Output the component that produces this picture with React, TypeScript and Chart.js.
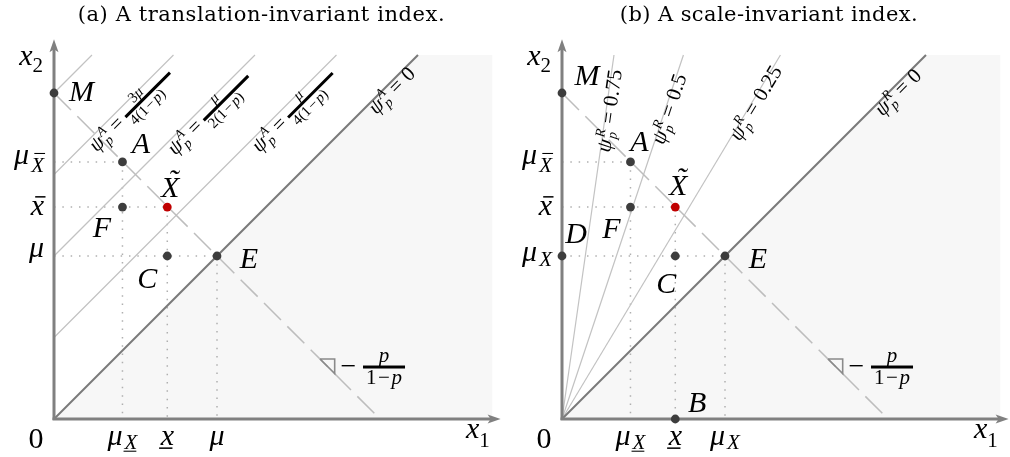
import React, { useEffect, useRef } from "react";
import { Chart, registerables } from "chart.js";

Chart.register(...registerables);

// ---------------- layout constants (pixels) ----------------
const PANEL_W = 505;
const PANEL_H = 457;
const UNIT = 163; // pixels per data unit (mu = 1)
const ORIGIN_PX = [
  { x: 54, y: 419 },
  { x: 57, y: 419 },
];
const TITLES = ["(a) A translation-invariant index.", "(b) A scale-invariant index."];
const TITLE_LEFT = [78, 115];
const TITLE_WIDTH = [367, 298];

// ---------------- values (mu = 1) ----------------
const muVal = 1.0; // mu / mu_X  (point E)
const muXUnder = 0.42; // mu_{X underline}
const xUnder = 0.695; // x underline
const xBar = 1.3; // x bar
const muXBar = 1.577; // mu_{X bar}
const mY = 2.0; // point M on x2 axis
const budgetEnd = 2.0; // dashed line meets x1 axis
const lineTop = 2.233; // upper end of the iso lines
const shadeRight = 2.69; // right edge of shaded region
const yAxisTop = 2.33;
const xAxisRight = 2.74;

// panel (a): iso lines x2 = x1 + c
const isoInterceptsA = [2.0, 1.5, 1.0, 0.5];
const isoNumA = ["", "3μ", "μ", "μ"];
const isoDenA = ["", "4(1−p)", "2(1−p)", "4(1−p)"];
// panel (b): rays from origin, x1 where they reach lineTop
const rayTopXB = [0.319, 0.745, 1.34];
const rayLabelsB = ["0.75", "0.5", "0.25"];

// slope marker on dashed line
const slopeTriX = 1.632;
const slopeTriSize = 0.09;

// label placements (fraction along line where label starts)
const LABEL_T_A = [0.27, 0.55, 0.69];
const LABEL_T_A0 = 0.86;
const LABEL_T_B = [0.735, 0.76, 0.775];
const LABEL_T_B0 = 0.855;

type Pt = { x: number; y: number };

const DOT = "#3d3d3d";
const RED = "#c00000";
const MATH = '"Liberation Serif", "Times New Roman", serif';

function lineDs(pts: Pt[], color: string, width: number, dash: number[] = []) {
  return {
    data: pts,
    showLine: true,
    pointRadius: 0,
    borderColor: color,
    borderWidth: width,
    borderDash: dash,
    fill: false,
    tension: 0,
    clip: false as any,
  };
}

function budgetY(x: number) {
  return mY * (1 - x / budgetEnd);
}

function buildDatasets(panel: number) {
  const ds: any[] = [];
  ds.push({
    data: [
      { x: 0, y: 0 },
      { x: lineTop, y: lineTop },
      { x: shadeRight, y: lineTop },
      { x: shadeRight, y: 0 },
    ],
    showLine: true,
    pointRadius: 0,
    borderWidth: 0,
    borderColor: "rgba(0,0,0,0)",
    backgroundColor: "#f7f7f7",
    fill: "origin",
    clip: false,
  });
  const guides: Pt[][] = [
    [{ x: 0, y: muXBar }, { x: muXUnder, y: muXBar }],
    [{ x: 0, y: xBar }, { x: xUnder, y: xBar }],
    [{ x: 0, y: muVal }, { x: muVal, y: muVal }],
    [{ x: muXUnder, y: muXBar }, { x: muXUnder, y: 0 }],
    [{ x: xUnder, y: xBar }, { x: xUnder, y: 0 }],
    [{ x: muVal, y: muVal }, { x: muVal, y: 0 }],
  ];
  guides.forEach((g) => ds.push(lineDs(g, "#b0b0b0", 1.5, [1.5, 6.83])));
  if (panel === 0) {
    isoInterceptsA.forEach((c) =>
      ds.push(lineDs([{ x: 0, y: c }, { x: lineTop - c, y: lineTop }], "#c2c2c2", 1.2))
    );
  } else {
    rayTopXB.forEach((tx) =>
      ds.push(lineDs([{ x: 0, y: 0 }, { x: tx, y: lineTop }], "#c2c2c2", 1.2))
    );
  }
  ds.push(lineDs([{ x: 0, y: 0 }, { x: lineTop, y: lineTop }], "#7a7a7a", 2));
  ds.push(lineDs([{ x: 0, y: mY }, { x: budgetEnd, y: 0 }], "#bdbdbd", 1.5, [24, 9]));
  ds.push(
    lineDs(
      [
        { x: slopeTriX, y: budgetY(slopeTriX) },
        { x: slopeTriX + slopeTriSize, y: budgetY(slopeTriX) },
        { x: slopeTriX + slopeTriSize, y: budgetY(slopeTriX + slopeTriSize) },
        { x: slopeTriX, y: budgetY(slopeTriX) },
      ],
      "#8a8a8a",
      1.6
    )
  );
  ds.push(lineDs([{ x: 0, y: -0.006 }, { x: 0, y: yAxisTop - 0.04 }], "#808080", 3));
  ds.push(lineDs([{ x: -0.009, y: 0 }, { x: xAxisRight - 0.04, y: 0 }], "#808080", 3));
  const pts: Pt[] = [
    { x: 0, y: mY },
    { x: muXUnder, y: muXBar },
    { x: muXUnder, y: xBar },
    { x: xUnder, y: muVal },
    { x: muVal, y: muVal },
    { x: xUnder, y: xBar },
  ];
  const cols = [DOT, DOT, DOT, DOT, DOT, RED];
  if (panel === 1) {
    pts.unshift({ x: 0, y: muVal }, { x: xUnder, y: 0 });
    cols.unshift(DOT, DOT);
  }
  ds.push({
    data: pts,
    showLine: false,
    pointRadius: 4.4,
    pointBorderWidth: 0,
    pointBackgroundColor: cols,
    pointBorderColor: cols,
    clip: false,
  });
  return ds.reverse();
}

// ---------------- text helpers ----------------
type Run = {
  t: string;
  s: number;
  it?: boolean;
  dy?: number;
  dx?: number;
  bar?: number; // height above baseline for over-bar
  under?: boolean;
  tilde?: boolean;
};

function setFont(ctx: CanvasRenderingContext2D, r: Run) {
  ctx.font = `${r.it ? "italic " : ""}${r.s}px ${MATH}`;
}
function runsWidth(ctx: CanvasRenderingContext2D, runs: Run[]) {
  let w = 0;
  for (const r of runs) {
    setFont(ctx, r);
    w += (r.dx || 0) + ctx.measureText(r.t).width;
  }
  return w;
}
function drawRuns(
  ctx: CanvasRenderingContext2D,
  runs: Run[],
  x: number,
  y: number,
  align: "left" | "center" | "right" = "left"
) {
  const w = runsWidth(ctx, runs);
  let cx = align === "left" ? x : align === "center" ? x - w / 2 : x - w;
  ctx.textAlign = "left";
  ctx.textBaseline = "alphabetic";
  for (const r of runs) {
    cx += r.dx || 0;
    setFont(ctx, r);
    const rw = ctx.measureText(r.t).width;
    const by = y + (r.dy || 0);
    ctx.fillText(r.t, cx, by);
    const th = Math.max(1, r.s * 0.05);
    if (r.bar) ctx.fillRect(cx + r.s * 0.15, by - r.bar, rw - r.s * 0.1, th);
    if (r.under) ctx.fillRect(cx - r.s * 0.05, by + r.s * 0.08, rw, th);
    if (r.tilde) {
      ctx.save();
      ctx.textAlign = "center";
      ctx.fillText("˜", cx + rw / 2 + r.s * 0.1, by - r.s * 0.24);
      ctx.restore();
    }
    cx += rw;
  }
}

const BIG = 30;
const SUB = 21;

function pointLabel(ctx: CanvasRenderingContext2D, name: string, cx: number, cy: number) {
  const runs: Run[] = [{ t: name, s: BIG, it: true, tilde: name === "X̃" }];
  if (name === "X̃") runs[0].t = "X";
  drawRuns(ctx, runs, cx, cy + BIG * 0.33, "center");
}

function psiLabel(
  ctx: CanvasRenderingContext2D,
  p0: Pt,
  p1: Pt,
  t: number,
  off: number,
  supL: string,
  value: string | null,
  num?: string,
  den?: string
) {
  const ax = p0.x + (p1.x - p0.x) * t;
  const ay = p0.y + (p1.y - p0.y) * t;
  const ang = Math.atan2(p1.y - p0.y, p1.x - p0.x);
  ctx.save();
  ctx.translate(ax, ay);
  ctx.rotate(ang);
  ctx.fillStyle = "#000";
  ctx.textAlign = "left";
  ctx.textBaseline = "alphabetic";
  let cx = 0;
  const S = 21;
  const s = 14;
  ctx.font = `italic ${S}px ${MATH}`;
  ctx.fillText("ψ", cx, off);
  cx += ctx.measureText("ψ").width;
  ctx.font = `italic ${s}px ${MATH}`;
  const w1 = ctx.measureText(supL).width;
  const w2 = ctx.measureText("p").width;
  ctx.fillText(supL, cx + 1, off - 8);
  ctx.fillText("p", cx + 1, off + 4);
  cx += Math.max(w1, w2) + 2;
  ctx.font = `${S}px ${MATH}`;
  cx += 5;
  ctx.fillText("=", cx, off);
  cx += ctx.measureText("=").width + 6;
  if (value !== null) {
    ctx.fillText(value, cx, off);
  } else if (num && den) {
    const fs = 15;
    const axis = off - 5;
    const numRuns: Run[] = [];
    for (const ch of num) numRuns.push({ t: ch, s: fs, it: ch === "μ" });
    const denRuns: Run[] = [];
    for (const ch of den)
      denRuns.push({ t: ch, s: fs, it: ch === "p", dx: ch === "−" || ch === "p" ? 1.5 : 0 });
    const nw = runsWidth(ctx, numRuns);
    const dw = runsWidth(ctx, denRuns);
    const fw = Math.max(nw, dw);
    drawRuns(ctx, numRuns, cx + fw / 2, axis - 4, "center");
    drawRuns(ctx, denRuns, cx + fw / 2, axis + 13, "center");
    ctx.fillRect(cx - 1, axis - 1.5, fw + 19, 3);
  }
  ctx.restore();
}

function slopeLabel(ctx: CanvasRenderingContext2D, tx: number, ty: number, barL: number, barR: number) {
  ctx.fillStyle = "#000";
  drawRuns(ctx, [{ t: "−", s: 28 }], tx + 28.5, ty + 15.5, "center");
  ctx.fillRect(tx + barL, ty + 6.5, barR - barL, 3);
  const mid = tx + (barL + barR) / 2;
  drawRuns(ctx, [{ t: "p", s: 21, it: true }], mid, ty + 3, "center");
  drawRuns(
    ctx,
    [
      { t: "1", s: 21 },
      { t: "−", s: 21, dx: 1.5 },
      { t: "p", s: 21, it: true, dx: 1.5 },
    ],
    mid,
    ty + 25,
    "center"
  );
}

function makeOverlay(panel: number) {
  return {
    id: "overlay" + panel,
    afterDatasetsDraw(chart: any) {
      const ctx: CanvasRenderingContext2D = chart.ctx;
      const sx = chart.scales.x;
      const sy = chart.scales.y;
      const P = (x: number, y: number): Pt => ({ x: sx.getPixelForValue(x), y: sy.getPixelForValue(y) });
      const o = P(0, 0);
      ctx.save();
      // arrow heads
      ctx.fillStyle = "#808080";
      const tipY = P(0, yAxisTop);
      ctx.beginPath();
      ctx.moveTo(tipY.x, tipY.y);
      ctx.lineTo(tipY.x - 4.5, tipY.y + 13);
      ctx.lineTo(tipY.x, tipY.y + 10);
      ctx.lineTo(tipY.x + 4.5, tipY.y + 13);
      ctx.closePath();
      ctx.fill();
      const tipX = P(xAxisRight, 0);
      ctx.beginPath();
      ctx.moveTo(tipX.x, tipX.y);
      ctx.lineTo(tipX.x - 13, tipX.y - 4.5);
      ctx.lineTo(tipX.x - 10, tipX.y);
      ctx.lineTo(tipX.x - 13, tipX.y + 4.5);
      ctx.closePath();
      ctx.fill();

      ctx.fillStyle = "#000";
      // title
      ctx.font = `21px "DejaVu Serif", serif`;
      ctx.textAlign = "left";
      ctx.textBaseline = "alphabetic";
      const tw = ctx.measureText(TITLES[panel]).width;
      const ls = Math.max(-1, Math.min(1.5, (TITLE_WIDTH[panel] - tw) / (TITLES[panel].length - 1)));
      (ctx as any).letterSpacing = `${ls.toFixed(2)}px`;
      const tw2 = ctx.measureText(TITLES[panel]).width;
      ctx.fillText(TITLES[panel], TITLE_LEFT[panel] + (TITLE_WIDTH[panel] - tw2) / 2, 21);
      (ctx as any).letterSpacing = "0px";

      // axis names
      drawRuns(
        ctx,
        [
          { t: "x", s: BIG, it: true },
          { t: "2", s: SUB, dy: 7 },
        ],
        o.x - 11,
        65,
        "right"
      );
      drawRuns(
        ctx,
        [
          { t: "x", s: BIG, it: true },
          { t: "1", s: SUB, dy: 9 },
        ],
        o.x + 412,
        o.y + 19,
        "left"
      );
      drawRuns(ctx, [{ t: "0", s: BIG }], o.x - 18, o.y + 29, "center");

      // y tick labels
      const yl = o.x - 10;
      drawRuns(
        ctx,
        [
          { t: "μ", s: BIG, it: true },
          { t: "X", s: SUB, it: true, dy: 8, dx: 2, bar: 19 },
        ],
        yl,
        P(0, muXBar).y + 2,
        "right"
      );
      drawRuns(ctx, [{ t: "x", s: BIG, it: true, bar: 19 }], yl, P(0, xBar).y + 8, "right");
      if (panel === 0) {
        drawRuns(ctx, [{ t: "μ", s: BIG, it: true }], yl, P(0, muVal).y + 1, "right");
      } else {
        drawRuns(
          ctx,
          [
            { t: "μ", s: BIG, it: true },
            { t: "X", s: SUB, it: true, dy: 5, dx: 2 },
          ],
          yl,
          P(0, muVal).y + 5,
          "right"
        );
      }
      // x tick labels
      const xb = o.y + 26;
      drawRuns(
        ctx,
        [
          { t: "μ", s: BIG, it: true },
          { t: "X", s: SUB, it: true, dy: 4, dx: 2, under: true },
        ],
        P(muXUnder, 0).x,
        xb,
        "center"
      );
      drawRuns(ctx, [{ t: "x", s: BIG, it: true, under: true }], P(xUnder, 0).x, xb, "center");
      if (panel === 0) {
        drawRuns(ctx, [{ t: "μ", s: BIG, it: true }], P(muVal, 0).x, xb, "center");
      } else {
        drawRuns(
          ctx,
          [
            { t: "μ", s: BIG, it: true },
            { t: "X", s: SUB, it: true, dy: 4, dx: 2 },
          ],
          P(muVal, 0).x,
          xb,
          "center"
        );
      }

      // point labels
      const lab = (name: string, x: number, y: number, dx: number, dy: number) => {
        const p = P(x, y);
        pointLabel(ctx, name, p.x + dx, p.y + dy);
      };
      if (panel === 0) {
        lab("M", 0, mY, 27.5, -2);
        lab("A", muXUnder, muXBar, 18.5, -18.5);
        lab("X̃", xUnder, xBar, 3, -20);
        lab("F", muXUnder, xBar, -20.5, 20);
        lab("C", xUnder, muVal, -20, 22);
        lab("E", muVal, muVal, 32, 2);
      } else {
        lab("M", 0, mY, 25, -18);
        lab("A", muXUnder, muXBar, 9, -21);
        lab("X̃", xUnder, xBar, 3, -22);
        lab("F", muXUnder, xBar, -19, 21);
        lab("D", 0, muVal, 14, -23);
        lab("C", xUnder, muVal, -9, 27);
        lab("E", muVal, muVal, 33, 2);
        lab("B", xUnder, 0, 22, -17);
      }

      // rotated iso-line labels
      const OFF = 13;
      if (panel === 0) {
        for (let i = 1; i < isoInterceptsA.length; i++) {
          const c = isoInterceptsA[i];
          psiLabel(ctx, P(0, c), P(lineTop - c, lineTop), LABEL_T_A[i - 1], 15, "A", null, isoNumA[i], isoDenA[i]);
        }
        psiLabel(ctx, P(0, 0), P(lineTop, lineTop), LABEL_T_A0, OFF, "A", "0");
      } else {
        for (let i = 0; i < rayTopXB.length; i++) {
          psiLabel(ctx, P(0, 0), P(rayTopXB[i], lineTop), LABEL_T_B[i], 10, "R", rayLabelsB[i]);
        }
        psiLabel(ctx, P(0, 0), P(lineTop, lineTop), LABEL_T_B0, OFF, "R", "0");
      }

      // slope marker label
      const tv = P(slopeTriX, budgetY(slopeTriX));
      slopeLabel(ctx, tv.x, tv.y, 43, 85);
      ctx.restore();
    },
  };
}

function Panel({ panel }: { panel: number }) {
  const ref = useRef<HTMLCanvasElement | null>(null);
  useEffect(() => {
    if (!ref.current) return;
    const o = ORIGIN_PX[panel];
    const chart = new Chart(ref.current, {
      type: "scatter",
      data: { datasets: buildDatasets(panel) },
      options: {
        responsive: false,
        animation: false,
        events: [],
        layout: { padding: 0, autoPadding: false },
        scales: {
          x: { type: "linear", display: false, bounds: "data", min: -o.x / UNIT, max: (PANEL_W - o.x) / UNIT },
          y: { type: "linear", display: false, bounds: "data", min: -(PANEL_H - o.y) / UNIT, max: o.y / UNIT },
        },
        plugins: {
          legend: { display: false },
          tooltip: { enabled: false },
          title: { display: false },
          filler: { drawTime: "beforeDatasetsDraw" } as any,
        },
      } as any,
      plugins: [makeOverlay(panel)],
    });
    return () => chart.destroy();
  }, [panel]);
  return (
    <canvas
      ref={ref}
      width={PANEL_W}
      height={PANEL_H}
      style={{ position: "absolute", left: panel * PANEL_W, top: 0, width: PANEL_W, height: PANEL_H }}
    />
  );
}

export default function App() {
  return (
    <div style={{ position: "absolute", left: 0, top: 0, width: 1010, height: 457, background: "#fff" }}>
      <Panel panel={0} />
      <Panel panel={1} />
    </div>
  );
}
